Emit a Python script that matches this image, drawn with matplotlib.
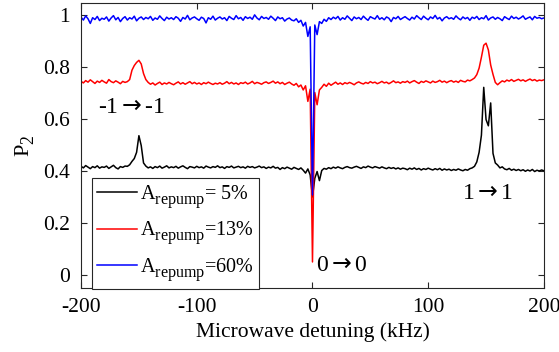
import numpy as np
import matplotlib
matplotlib.use("Agg")
import matplotlib.pyplot as plt
import matplotlib._mathtext as _mt

plt.rcParams['font.family'] = ['Liberation Serif', 'DejaVu Serif']
plt.rcParams['mathtext.fontset'] = 'custom'
plt.rcParams['mathtext.rm'] = 'Liberation Serif'
plt.rcParams['mathtext.it'] = 'Liberation Serif:italic'
plt.rcParams['mathtext.bf'] = 'Liberation Serif:bold'
plt.rcParams['mathtext.sf'] = 'DejaVu Sans'

# TeX-like subscripts: larger and dropped lower than the mathtext default
_mt.SHRINK_FACTOR = 0.8
_mt.FontConstantsBase.sub1 = 0.55
_mt.FontConstantsBase.sub2 = 0.6

# Microwave detuning grid (kHz)
detuning = np.arange(-200, 201, 2)

# P2 spectra for three repump amplitudes
p2_5 = [
    0.418, 0.412, 0.421, 0.415, 0.409, 0.417, 0.413, 0.420, 0.411, 0.416,
    0.414, 0.419, 0.410, 0.416, 0.422, 0.413, 0.408, 0.417, 0.414, 0.419,
    0.418, 0.424, 0.437, 0.448, 0.472, 0.536, 0.498, 0.431, 0.419, 0.412,
    0.416, 0.410, 0.417, 0.413, 0.419, 0.411, 0.415, 0.420, 0.412, 0.416,
    0.413, 0.418, 0.411, 0.416, 0.420, 0.414, 0.409, 0.417, 0.415, 0.412,
    0.418, 0.413, 0.416, 0.411, 0.419, 0.415, 0.412, 0.417, 0.414, 0.420,
    0.413, 0.416, 0.410, 0.417, 0.414, 0.419, 0.412, 0.415, 0.418, 0.413,
    0.416, 0.411, 0.418, 0.414, 0.417, 0.412, 0.415, 0.419, 0.413, 0.416,
    0.410, 0.415, 0.412, 0.418, 0.411, 0.414, 0.406, 0.413, 0.409, 0.415,
    0.411, 0.407, 0.414, 0.410, 0.406, 0.412, 0.403, 0.392, 0.408, 0.385,
    0.300, 0.372, 0.398, 0.363, 0.402, 0.410, 0.407, 0.413, 0.409, 0.415,
    0.411, 0.416, 0.412, 0.409, 0.414, 0.417, 0.413, 0.411, 0.415, 0.418,
    0.414, 0.410, 0.416, 0.413, 0.419, 0.415, 0.412, 0.417, 0.414, 0.411,
    0.416, 0.412, 0.409, 0.414, 0.410, 0.413, 0.408, 0.412, 0.407, 0.411,
    0.409, 0.405, 0.411, 0.407, 0.412, 0.406, 0.410, 0.404, 0.409, 0.406,
    0.411, 0.407, 0.404, 0.409, 0.405, 0.410, 0.403, 0.408, 0.404, 0.407,
    0.402, 0.406, 0.403, 0.408, 0.404, 0.401, 0.406, 0.403, 0.409, 0.412,
    0.418, 0.435, 0.472, 0.538, 0.722, 0.598, 0.574, 0.662, 0.468, 0.431,
    0.423, 0.412, 0.416, 0.408, 0.405, 0.410, 0.403, 0.407, 0.402, 0.406,
    0.401, 0.405, 0.399, 0.404, 0.400, 0.406, 0.398, 0.403, 0.400, 0.404,
    0.401,
]

p2_13 = [
    0.745, 0.739, 0.748, 0.742, 0.751, 0.744, 0.737, 0.746, 0.741, 0.749,
    0.743, 0.738, 0.752, 0.744, 0.740, 0.747, 0.742, 0.736, 0.745, 0.741,
    0.744, 0.752, 0.788, 0.806, 0.818, 0.826, 0.812, 0.775, 0.752, 0.741,
    0.734, 0.739, 0.731, 0.737, 0.742, 0.733, 0.739, 0.735, 0.741, 0.736,
    0.732, 0.738, 0.743, 0.735, 0.740, 0.734, 0.739, 0.744, 0.736, 0.741,
    0.735, 0.739, 0.733, 0.740, 0.736, 0.742, 0.737, 0.733, 0.738, 0.735,
    0.740, 0.734, 0.738, 0.744, 0.736, 0.741, 0.735, 0.739, 0.733, 0.740,
    0.737, 0.742, 0.735, 0.739, 0.745, 0.736, 0.741, 0.738, 0.734, 0.740,
    0.743, 0.737, 0.741, 0.746, 0.738, 0.743, 0.736, 0.741, 0.733, 0.738,
    0.742, 0.735, 0.730, 0.737, 0.724, 0.731, 0.712, 0.728, 0.668, 0.715,
    0.050, 0.702, 0.655, 0.712, 0.722, 0.734, 0.726, 0.738, 0.730, 0.736,
    0.742, 0.734, 0.739, 0.733, 0.740, 0.736, 0.741, 0.737, 0.732, 0.739,
    0.743, 0.738, 0.735, 0.741, 0.737, 0.744, 0.739, 0.742, 0.736, 0.740,
    0.745, 0.739, 0.742, 0.736, 0.741, 0.747, 0.740, 0.743, 0.738, 0.744,
    0.741, 0.746, 0.739, 0.744, 0.748, 0.742, 0.737, 0.745, 0.741, 0.747,
    0.743, 0.739, 0.746, 0.741, 0.744, 0.749, 0.742, 0.746, 0.740, 0.745,
    0.748, 0.742, 0.746, 0.741, 0.749, 0.745, 0.743, 0.750, 0.747, 0.752,
    0.758, 0.771, 0.796, 0.838, 0.884, 0.892, 0.866, 0.808, 0.772, 0.741,
    0.732, 0.740, 0.747, 0.743, 0.750, 0.746, 0.752, 0.745, 0.749, 0.753,
    0.747, 0.751, 0.745, 0.750, 0.754, 0.748, 0.752, 0.746, 0.750, 0.748,
    0.751,
]

p2_60 = [
    0.992, 0.981, 0.997, 0.986, 0.968, 0.990, 0.983, 0.995, 0.979, 0.988,
    0.984, 0.993, 0.977, 0.989, 0.998, 0.982, 0.991, 0.975, 0.987, 0.994,
    0.981, 0.990, 0.985, 0.996, 0.978, 0.988, 0.993, 0.983, 0.991, 0.986,
    0.995, 0.980, 0.989, 0.984, 0.997, 0.987, 0.979, 0.992, 0.985, 0.990,
    0.983, 0.994, 0.988, 0.976, 0.991, 0.985, 0.999, 0.982, 0.989, 0.993,
    0.986, 0.980, 0.992, 0.987, 0.970, 0.990, 0.984, 0.996, 0.981, 0.988,
    0.993, 0.985, 0.990, 0.979, 0.995, 0.988, 0.983, 0.998, 0.986, 0.991,
    0.980, 0.994, 0.987, 0.992, 0.984, 1.001, 0.989, 0.982, 0.995, 0.987,
    0.991, 0.984, 0.996, 0.988, 0.979, 0.993, 0.986, 0.990, 0.977, 0.985,
    0.989, 0.981, 0.978, 0.986, 0.972, 0.980, 0.958, 0.972, 0.918, 0.955,
    0.308, 0.962, 0.925, 0.975, 0.968, 0.984, 0.976, 0.990, 0.983, 0.992,
    0.986, 0.995, 0.981, 0.990, 0.984, 0.997, 0.988, 0.979, 0.993, 0.986,
    0.991, 0.983, 0.996, 0.987, 0.980, 0.994, 0.989, 0.985, 0.998, 0.984,
    0.990, 0.982, 0.993, 0.988, 0.975, 0.991, 0.986, 0.995, 0.983, 0.989,
    0.994, 0.987, 0.981, 0.992, 0.985, 0.998, 0.990, 0.983, 0.996, 0.988,
    0.982, 0.993, 0.987, 0.999, 0.985, 0.991, 0.978, 0.989, 0.994, 0.986,
    0.990, 0.984, 0.997, 0.988, 0.982, 0.993, 0.986, 0.991, 0.980, 0.992,
    0.987, 0.995, 0.983, 0.990, 0.986, 0.998, 0.981, 0.989, 0.993, 0.984,
    0.991, 0.986, 0.979, 0.994, 0.988, 0.983, 0.996, 0.987, 0.992, 0.985,
    0.990, 0.997, 0.984, 0.989, 0.993, 0.982, 0.995, 0.988, 0.991, 0.986,
    0.989,
]

series_labels = [
    r"$\mathrm{A}_{\mathrm{repump}}$= 5%",
    r"$\mathrm{A}_{\mathrm{repump}}$=13%",
    r"$\mathrm{A}_{\mathrm{repump}}$=60%",
]
series_colors = ["black", "red", "blue"]

xticks = [-200, -100, 0, 100, 200]
yticks = [0, 0.2, 0.4, 0.6, 0.8, 1]
ytick_labels = ["0", "0.2", "0.4", "0.6", "0.8", "1"]

ARROW = r"$\mathsf{\rightarrow}$"

fig = plt.figure(figsize=(5.59, 3.52), dpi=100)
ax = fig.add_axes([0.145, 0.182, 0.828, 0.809])

for vals, lab, col in zip([p2_5, p2_13, p2_60], series_labels, series_colors):
    ax.plot(detuning, vals, color=col, lw=1.1, label=lab)

ax.set_xlim(-200, 200)
ax.set_ylim(-0.05, 1.046)
ax.set_xticks(xticks)
ax.set_xticklabels([str(t) for t in xticks])
ax.set_yticks(yticks)
ax.set_yticklabels(ytick_labels)

spine_col = "#262626"
for s in ax.spines.values():
    s.set_color(spine_col)
    s.set_linewidth(0.8)
ax.tick_params(direction="in", top=True, right=True, length=4,
               width=0.8, color=spine_col, labelsize=15.5)
ax.tick_params(axis="x", pad=7)
ax.tick_params(axis="y", pad=8)

ax.set_xlabel("Microwave detuning (kHz)", fontsize=15.5, labelpad=4)
ax.set_ylabel(r"$\mathrm{P}_{2}$", fontsize=16, labelpad=4)

ax.text(-157, 0.645, "-1" + ARROW + "-1", fontsize=17, ha="center", va="center")
ax.text(151, 0.315, "1" + ARROW + "1", fontsize=17, ha="center", va="center")
ax.text(25, 0.035, "0" + ARROW + "0", fontsize=17, ha="center", va="center")

leg = ax.legend(loc="upper left", bbox_to_anchor=(0.024, 0.386),
                borderaxespad=0, fontsize=14.5, frameon=True, fancybox=False,
                framealpha=1, edgecolor=spine_col, handlelength=2.0,
                handletextpad=0.15, labelspacing=0.45, borderpad=0.25)
leg.get_frame().set_linewidth(0.8)

fig.savefig("out.png", dpi=100)
